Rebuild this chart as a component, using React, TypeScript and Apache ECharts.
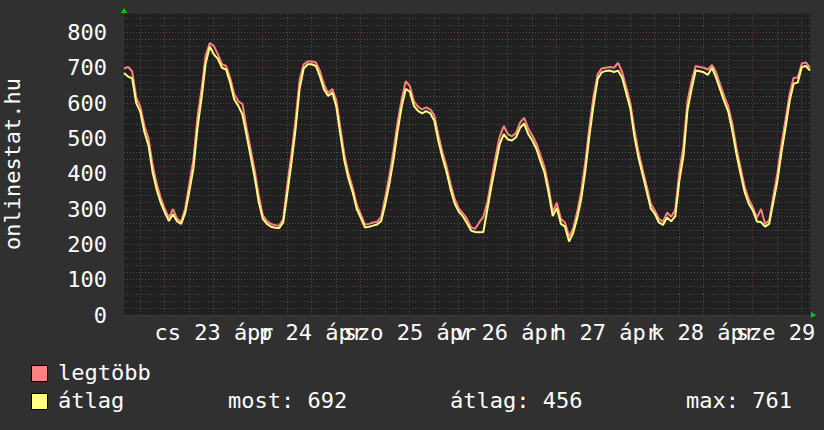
import { useEffect, useRef } from 'react';
import * as echarts from 'echarts';

// hours counted from 22 Apr 00:00
const START_HOUR = 14.2;
const END_HOUR = 182.2;
const STEP_HOURS = 1;

const atlag = [
  685, 675, 670, 600, 575, 518, 480, 405, 355, 318,
  290, 266, 285, 265, 258, 290, 350, 415, 530, 615,
  712, 760, 738, 725, 700, 695, 658, 610, 592, 568,
  510, 450, 390, 320, 272, 258, 250, 247, 246, 262,
  345, 430, 525, 640, 698, 710, 710, 705, 675, 638,
  620, 630, 590, 510, 435, 385, 348, 300, 275, 248,
  250, 253, 256, 266, 315, 372, 440, 520, 590, 640,
  632, 592, 578, 571, 577, 571, 550, 492, 445, 405,
  355, 315, 292, 279, 260, 239, 235, 234, 235, 300,
  365, 425, 483, 512, 497, 494, 503, 530, 542, 512,
  494, 470, 435, 402, 345, 280, 303, 258, 250, 208,
  232, 275, 330, 410, 510, 595, 668, 687, 691, 692,
  688, 692, 672, 628, 585, 505, 445, 398, 350, 302,
  286, 262, 255, 276, 265, 280, 380, 450, 580, 640,
  692, 690, 687, 680, 700, 672, 638, 605, 575, 520,
  455, 400, 348, 315, 296, 265, 263, 250, 258, 318,
  378, 460, 530, 605, 655, 658, 702, 705, 692,
];

const legtobb = [
  698, 702, 690, 615, 590, 535, 500, 425, 372, 332,
  300, 275, 300, 272, 264, 302, 372, 440, 560, 640,
  735, 770, 762, 738, 710, 705, 672, 625, 605, 598,
  530, 470, 410, 338, 282, 266, 258, 254, 253, 272,
  370, 455, 550, 665, 710, 718, 718, 715, 690, 652,
  628, 640, 608, 528, 452, 400, 360, 312, 285, 256,
  258, 262, 264, 278, 335, 395, 465, 545, 610, 662,
  648, 605, 590, 582, 588, 582, 565, 510, 460, 420,
  370, 328, 302, 288, 272, 248, 244, 262, 278, 320,
  385, 448, 505, 535, 512, 506, 515, 545, 558, 528,
  508, 485, 452, 418, 362, 292, 318, 272, 262, 222,
  245, 292, 352, 435, 535, 620, 682, 698, 700, 702,
  700, 714, 688, 645, 600, 525, 462, 412, 365, 315,
  296, 272, 264, 290, 278, 298, 405, 478, 605, 662,
  705, 702, 700, 695, 708, 688, 652, 620, 590, 540,
  472, 418, 362, 328, 305, 275, 300, 258, 268, 335,
  400, 482, 552, 625, 672, 672, 712, 715, 700,
];

const dayLabels = ['cs 23 ápr', 'p 24 ápr', 'szo 25 ápr', 'v 26 ápr', 'h 27 ápr', 'k 28 ápr', 'sze 29 ápr'];
const dayLabelHours = [36, 60, 84, 108, 132, 156, 180];
const dayLineHours = [24, 48, 72, 96, 120, 144, 168];
const minorLineHours = [18, 30, 36, 42, 54, 60, 66, 78, 84, 90, 102, 108, 114, 126, 132, 138, 150, 156, 162, 174, 180];

const Y_MIN = 0;
const Y_MAX = 855;
const Y_INTERVAL = 100;

const statMost = 692;
const statAtlag = 456;
const statMax = 761;

const FONT = 'DejaVu Sans Mono';
const FONT_SIZE = 22;
const PINK = '#ff8080';
const YELLOW = '#ffff80';
const MINOR_GRID = '#4c4c4c';
const MAJOR_GRID = '#703434';

export default function App() {
  const ref = useRef<HTMLDivElement>(null);
  useEffect(() => {
    if (!ref.current) return;
    const chart = echarts.init(ref.current, undefined, { renderer: 'svg' });
    const toPairs = (arr: number[]) => arr.map((v, i) => [START_HOUR + i * STEP_HOURS, v]);
    const dotted = [1, 2];
    const font = `${FONT_SIZE}px "${FONT}"`;
    const vLines = (color: string) => (params: any, api: any) => {
      const h = api.value(0);
      const p0 = api.coord([h, Y_MIN]);
      const p1 = api.coord([h, Y_MAX]);
      return {
        type: 'line',
        shape: { x1: Math.round(p0[0]) + 0.5, y1: p0[1], x2: Math.round(p1[0]) + 0.5, y2: p1[1] },
        style: { stroke: color, lineWidth: 1, lineDash: dotted },
        silent: true,
      };
    };
    const dayLabelItem = (params: any, api: any) => {
      const h = api.value(0);
      const idx = api.value(1);
      const p = api.coord([h, Y_MIN]);
      return {
        type: 'text',
        x: p[0] + 1,
        y: p[1] + 6,
        style: {
          text: dayLabels[idx],
          fill: '#ffffff',
          font,
          textAlign: 'center',
          textVerticalAlign: 'top',
        },
        silent: true,
      };
    };
    const legendText = (x: number, y: number, text: string) => ({
      type: 'text', x, y, style: { text, fill: '#ffffff', font, verticalAlign: 'middle' },
    });
    chart.setOption({
      animation: false,
      backgroundColor: '#303030',
      grid: {
        left: 124,
        right: 14,
        top: 13,
        bottom: 115,
        show: true,
        backgroundColor: '#202020',
        borderWidth: 0,
        containLabel: false,
        outerBoundsMode: 'none',
      },
      xAxis: {
        type: 'value',
        min: START_HOUR,
        max: END_HOUR,
        axisLine: { show: false },
        axisTick: { show: false },
        splitLine: { show: false },
        axisLabel: { show: false },
      },
      yAxis: {
        type: 'value',
        min: Y_MIN,
        max: Y_MAX,
        interval: Y_INTERVAL,
        name: 'onlinestat.hu',
        nameLocation: 'middle',
        nameRotate: 90,
        nameGap: 101,
        nameTextStyle: { color: '#ffffff', fontFamily: FONT, fontSize: FONT_SIZE },
        axisLine: { show: false },
        axisTick: { show: false },
        axisLabel: {
          color: '#ffffff',
          fontFamily: FONT,
          fontSize: FONT_SIZE,
          margin: 17,
          showMaxLabel: false,
        },
        splitLine: { show: true, lineStyle: { color: MAJOR_GRID, type: dotted, width: 1 } },
        minorTick: { show: false, splitNumber: 5 },
        minorSplitLine: { show: true, lineStyle: { color: MINOR_GRID, type: dotted, width: 1 } },
      },
      series: [
        {
          type: 'custom',
          name: 'minorGrid',
          data: minorLineHours.map((h) => [h]),
          renderItem: vLines(MINOR_GRID),
          silent: true,
          z: 1,
        },
        {
          type: 'custom',
          name: 'dayGrid',
          data: dayLineHours.map((h) => [h]),
          renderItem: vLines(MAJOR_GRID),
          silent: true,
          z: 1,
        },
        {
          type: 'custom',
          name: 'dayLabels',
          data: dayLabelHours.map((h, i) => [h, i]),
          renderItem: dayLabelItem,
          silent: true,
          clip: false,
          z: 5,
        },
        {
          type: 'line',
          name: 'legtöbb',
          data: toPairs(legtobb),
          showSymbol: false,
          symbol: 'none',
          z: 3,
          lineStyle: { color: PINK, width: 2 },
        },
        {
          type: 'line',
          name: 'átlag',
          data: toPairs(atlag),
          showSymbol: false,
          symbol: 'none',
          z: 4,
          lineStyle: { color: YELLOW, width: 2 },
        },
      ],
      graphic: [
        { type: 'polygon', shape: { points: [[121, 13], [127, 13], [124, 8]] }, style: { fill: '#00cc00' } },
        { type: 'polygon', shape: { points: [[811, 312], [811, 318], [816, 315]] }, style: { fill: '#00cc00' } },
        { type: 'rect', shape: { x: 31.5, y: 365.5, width: 16, height: 16 }, style: { fill: PINK, stroke: '#000', lineWidth: 1 } },
        { type: 'rect', shape: { x: 31.5, y: 393.5, width: 16, height: 16 }, style: { fill: YELLOW, stroke: '#000', lineWidth: 1 } },
        legendText(58, 372.5, 'legtöbb'),
        legendText(58, 400.5, 'átlag'),
        legendText(228, 400.5, `most: ${statMost}`),
        legendText(450, 400.5, `átlag: ${statAtlag}`),
        legendText(686, 400.5, `max: ${statMax}`),
      ],
    });
    return () => chart.dispose();
  }, []);
  return <div ref={ref} style={{ width: 824, height: 430, position: 'absolute', left: 0, top: 0 }} />;
}
